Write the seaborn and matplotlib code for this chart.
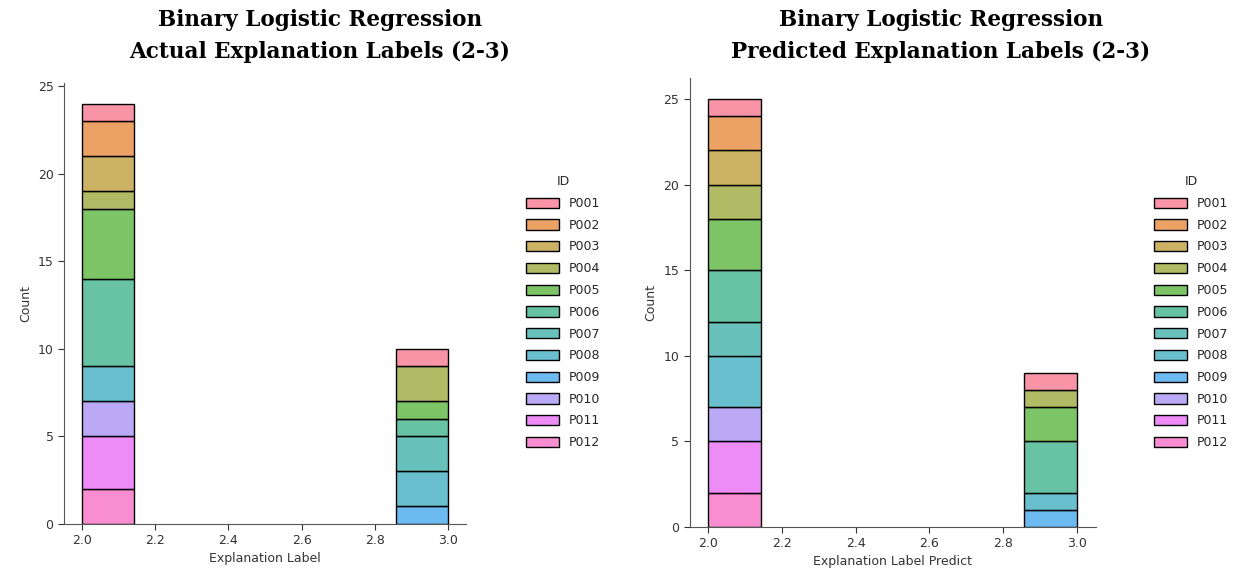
import numpy as np
import pandas as pd
import matplotlib
matplotlib.use("Agg")
import matplotlib.pyplot as plt
import seaborn as sns

ids = ["P001", "P002", "P003", "P004", "P005", "P006",
       "P007", "P008", "P009", "P010", "P011", "P012"]
labels = [2, 3]
# counts per ID for label 2 and label 3
actual_2 = [1, 2, 2, 1, 4, 5, 0, 2, 0, 2, 3, 2]
actual_3 = [1, 0, 0, 2, 1, 1, 2, 2, 1, 0, 0, 0]
pred_2 = [1, 2, 2, 2, 3, 3, 2, 3, 0, 2, 3, 2]
pred_3 = [1, 0, 0, 1, 2, 3, 0, 1, 1, 0, 0, 0]


def build(c2, c3, col):
    rows = []
    for pid, n2, n3 in zip(ids, c2, c3):
        rows += [(pid, float(labels[0]))] * n2
        rows += [(pid, float(labels[1]))] * n3
    return pd.DataFrame(rows, columns=["ID", col])


df_a = build(actual_2, actual_3, "Explanation Label")
df_p = build(pred_2, pred_3, "Explanation Label Predict")

sns.set_style("ticks")
plt.rcParams["font.family"] = ["DejaVu Sans"]

W, H = 1238, 576
fig = plt.figure(figsize=(W / 100, H / 100), dpi=100)
ax1 = fig.add_axes([64 / W, (H - 524) / H, 402 / W, 441.5 / H])
ax2 = fig.add_axes([689.5 / W, (H - 527) / H, 406 / W, 449.4 / H])

pal = sns.color_palette("husl", len(ids))
for ax, df, col, lx in [(ax1, df_a, "Explanation Label", 515),
                        (ax2, df_p, "Explanation Label Predict", 1143)]:
    sns.histplot(data=df, x=col, hue="ID", hue_order=ids, multiple="stack",
                 bins=7, binrange=(2.0, 3.0), palette=pal, alpha=0.75,
                 edgecolor="black", linewidth=1.0, ax=ax)
    for p in ax.patches:
        if p.get_height() == 0:
            p.set_visible(False)
    sns.despine(ax=ax)
    ax.set_xticks([2.0, 2.2, 2.4, 2.6, 2.8, 3.0])
    ax.set_yticks([0, 5, 10, 15, 20, 25])
    ax.tick_params(labelsize=9, colors="#333333", length=4)
    ax.set_xlabel(col, fontsize=9, color="#333333", labelpad=3)
    ax.set_ylabel("Count", fontsize=9, color="#333333")
    for s in ["left", "bottom"]:
        ax.spines[s].set_color("#555555")
    sns.move_legend(ax, "upper left", bbox_to_anchor=(lx / W, 1 - 164 / H),
                    bbox_transform=fig.transFigure, frameon=False,
                    fontsize=9, title_fontsize=9, labelspacing=0.7,
                    handlelength=2.6, handleheight=0.9)

ax1.set_ylim(0, 25.2)
ax2.set_ylim(0, 26.25)

tfont = dict(family="DejaVu Serif", weight="bold", fontsize=15.5,
             ha="center", va="top", linespacing=1.6, color="black")
fig.text(320 / W, 1 - 9 / H,
         "Binary Logistic Regression\nActual Explanation Labels (2-3)", **tfont)
fig.text(941 / W, 1 - 9 / H,
         "Binary Logistic Regression\nPredicted Explanation Labels (2-3)", **tfont)

fig.savefig("out.png", dpi=100)
